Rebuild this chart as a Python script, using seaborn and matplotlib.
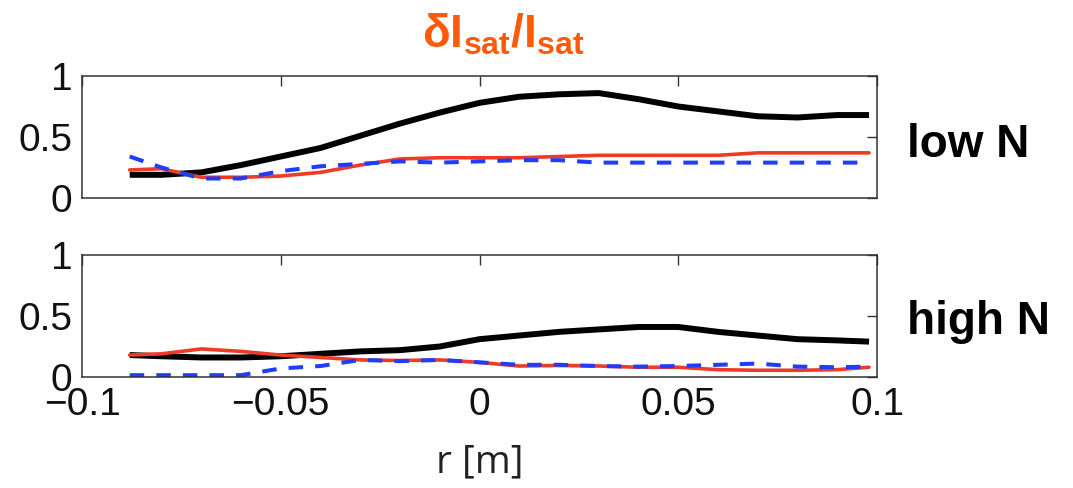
import numpy as np
import pandas as pd
import matplotlib
matplotlib.use("Agg")
import matplotlib.pyplot as plt
import seaborn as sns

# ---- data ----
r = [-0.088, -0.08, -0.07, -0.06, -0.05, -0.04, -0.03, -0.02, -0.01, 0.0,
     0.01, 0.02, 0.03, 0.04, 0.05, 0.06, 0.07, 0.08, 0.09, 0.098]

low_black = [0.19, 0.19, 0.21, 0.27, 0.34, 0.41, 0.51, 0.61, 0.70, 0.78,
             0.83, 0.85, 0.86, 0.81, 0.75, 0.71, 0.67, 0.66, 0.68, 0.68]
low_red = [0.23, 0.24, 0.17, 0.17, 0.18, 0.21, 0.27, 0.32, 0.33, 0.33,
           0.33, 0.34, 0.35, 0.35, 0.35, 0.35, 0.37, 0.37, 0.37, 0.37]
low_blue = [0.34, 0.25, 0.16, 0.16, 0.22, 0.26, 0.28, 0.30, 0.29, 0.30,
            0.31, 0.31, 0.29, 0.29, 0.29, 0.29, 0.29, 0.29, 0.29, 0.29]

high_black = [0.18, 0.17, 0.16, 0.16, 0.17, 0.19, 0.21, 0.22, 0.25, 0.31,
              0.34, 0.37, 0.39, 0.41, 0.41, 0.37, 0.34, 0.31, 0.30, 0.29]
high_red = [0.18, 0.19, 0.23, 0.21, 0.18, 0.16, 0.14, 0.135, 0.14, 0.12,
            0.09, 0.095, 0.09, 0.08, 0.08, 0.06, 0.055, 0.055, 0.06, 0.08]
high_blue = [0.015, 0.015, 0.015, 0.015, 0.07, 0.09, 0.14, 0.13, 0.14, 0.12,
             0.10, 0.10, 0.09, 0.085, 0.09, 0.10, 0.11, 0.085, 0.08, 0.085]

panel_labels = ["low N", "high N"]
x_ticks = [-0.1, -0.05, 0.0, 0.05, 0.1]
x_tick_labels = ["\u22120.1", "\u22120.05", "0", "0.05", "0.1"]
y_ticks = [0, 0.5, 1]
y_tick_labels = ["0", "0.5", "1"]
title = r"$\mathbf{δI_{sat}/I_{sat}}$"
x_label = "r [m]"

# ---- style ----
sns.set_style("white")
plt.rcParams["font.family"] = ["Liberation Sans", "DejaVu Sans"]
plt.rcParams["mathtext.fontset"] = "custom"
plt.rcParams["mathtext.rm"] = "Liberation Sans"
plt.rcParams["mathtext.bf"] = "Liberation Sans:bold"
plt.rcParams["mathtext.it"] = "Liberation Sans:italic"

fig = plt.figure(figsize=(10.73, 4.88), dpi=100)
ax_top = fig.add_axes([82 / 1073, 1 - 198 / 488, 795 / 1073, 122 / 488])
ax_bot = fig.add_axes([82 / 1073, 1 - 377 / 488, 795 / 1073, 122 / 488])

panels = [
    (ax_top, low_black, low_red, low_blue),
    (ax_bot, high_black, high_red, high_blue),
]

for ax, blk, red, blu in panels:
    df = pd.DataFrame({"r": r, "black": blk, "red": red, "blue": blu})
    sns.lineplot(data=df, x="r", y="black", ax=ax, color="black", lw=4.3,
                 solid_capstyle="butt")
    sns.lineplot(data=df, x="r", y="red", ax=ax, color="#ee3b26", lw=2.6)
    l = sns.lineplot(data=df, x="r", y="blue", ax=ax, color="#1f3cff", lw=2.9)
    l.lines[-1].set_dashes([3.6, 3.0])
    l.lines[-1].set_dash_capstyle("butt")
    ax.set_xlim(-0.1, 0.1)
    ax.set_ylim(0, 1)
    ax.set_yticks(y_ticks)
    ax.set_yticklabels(y_tick_labels)
    ax.set_xticks(x_ticks)
    ax.set_xlabel("")
    ax.set_ylabel("")
    ax.tick_params(direction="in", top=True, right=True, length=7, width=1,
                   color="#333333", labelsize=28, pad=7, labelcolor="#111111")
    for s in ax.spines.values():
        s.set_color("#333333")
        s.set_linewidth(1.1)

ax_top.set_xticklabels([])
ax_bot.set_xticklabels(x_tick_labels)
ax_bot.set_xlabel(x_label, fontsize=28, family=["Open Sans", "DejaVu Sans"],
                  labelpad=15, color="#222222")

fig.text(503 / 1073, 1 - 35 / 488, title, color="#ff5a0a", fontsize=33,
         ha="center", va="center")
fig.text(907 / 1073, 1 - 145 / 488, panel_labels[0], fontsize=33,
         fontweight="bold", ha="left", va="center", color="black")
fig.text(907 / 1073, 1 - 322 / 488, panel_labels[1], fontsize=33,
         fontweight="bold", ha="left", va="center", color="black")

fig.savefig("out.png", dpi=100)
